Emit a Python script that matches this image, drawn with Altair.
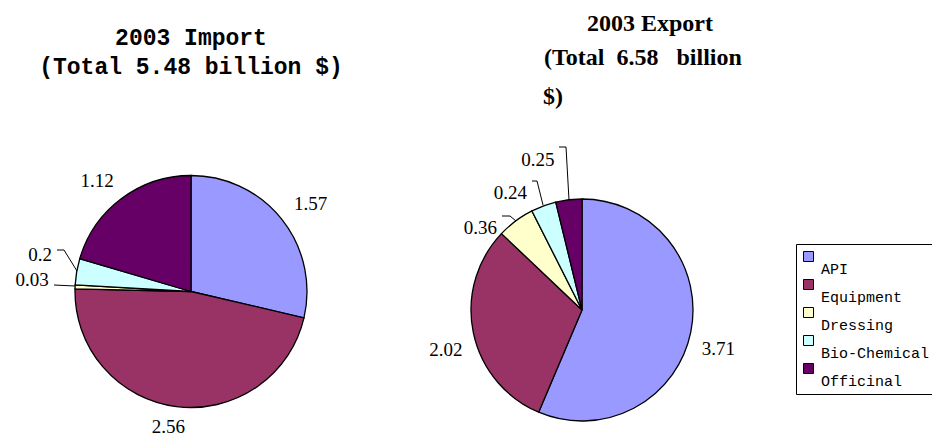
import altair as alt
import pandas as pd

# ---- data ----
categories = ["API", "Equipment", "Dressing", "Bio-Chemical", "Officinal"]
import_values = [1.57, 2.56, 0.03, 0.2, 1.12]
export_values = [3.71, 2.02, 0.36, 0.24, 0.25]
import_labels = ["1.57", "2.56", "0.03", "0.2", "1.12"]
export_labels = ["3.71", "2.02", "0.36", "0.24", "0.25"]
colors = ["#9999FF", "#993366", "#FFFFCC", "#CCFFFF", "#660066"]

# ---- styles / layout ----
LABEL_FONT = "Liberation Serif"
IMP_CENTER = (183, 283.5)
EXP_CENTER = (574, 302)
IMP_R = 116
EXP_R = 111
IMP_NUDGE = {"API": (10, 0), "Equipment": (-5, -3), "Dressing": (-19, -6),
             "Bio-Chemical": (-13, -13), "Officinal": (-10, 2)}
EXP_NUDGE = {"API": (4, 12), "Equipment": (-4, 12), "Dressing": (-21, 26),
             "Bio-Chemical": (-25, 10), "Officinal": (-28, -16)}
LEADERS = [
    ((46, 277), (67, 278)),
    ((49, 242), (56, 242)), ((56, 242), (69, 263)),
    ((494, 208), (502, 208)), ((502, 208), (508, 213)),
    ((524, 173), (529, 173)), ((529, 173), (535, 197)),
    ((551, 139), (558, 139)), ((558, 139), (561, 192)),
]
NB = "\u00a0"


def nudge_expr(nudge, k):
    e = "0"
    for cat, v in reversed(list(nudge.items())):
        e = f"datum.cat === '{cat}' ? {v[k]} : ({e})"
    return alt.expr(e)


color_enc = alt.Color(
    "cat:N",
    scale=alt.Scale(domain=categories, range=colors),
    legend=alt.Legend(
        orient="none", legendX=788, legendY=236, title=None,
        symbolType="square", symbolSize=100, symbolStrokeColor="black",
        symbolStrokeWidth=1, labelFont="Liberation Mono", labelFontSize=15,
        labelColor="black", labelExpr="['', datum.label]",
        labelBaseline="alphabetic", labelOffset=5, labelLimit=300,
        strokeColor="black", fillColor="white", padding=5, rowPadding=-6,
    ),
)


def pie(values, labels, center, r, rad_lab, nudge):
    df = pd.DataFrame({"cat": categories, "val": values, "lab": labels,
                       "idx": list(range(len(categories)))})
    base = alt.Chart(df).encode(
        theta=alt.Theta("val:Q", stack=True),
        order=alt.Order("idx:Q"),
        x=alt.value(center[0]), y=alt.value(center[1]),
    )
    arc = base.mark_arc(outerRadius=r, stroke="black", strokeWidth=1.3).encode(color=color_enc)
    txt = base.mark_text(
        radius=rad_lab, font=LABEL_FONT, fontSize=19, color="black",
        align="center", baseline="middle",
        dx=nudge_expr(nudge, 0), dy=nudge_expr(nudge, 1),
    ).encode(text="lab:N")
    return alt.layer(arc, txt)


imp = pie(import_values, import_labels, IMP_CENTER, IMP_R, 140, IMP_NUDGE)
exp = pie(export_values, export_labels, EXP_CENTER, EXP_R, 135, EXP_NUDGE)

dummy = pd.DataFrame({"k": [0]})
leaders = [
    alt.Chart(dummy).mark_rule(color="black", strokeWidth=1).encode(
        x=alt.value(a[0]), y=alt.value(a[1]), x2=alt.value(b[0]), y2=alt.value(b[1]))
    for a, b in LEADERS
]


def title_text(text, x, y, font, size, align="center"):
    return alt.Chart(dummy).mark_text(
        text=text, font=font, fontSize=size, fontWeight="bold", color="black",
        align=align, baseline="middle",
    ).encode(x=alt.value(x), y=alt.value(y))


titles = [
    title_text("2003 Import", 183, 30, "Liberation Mono", 23),
    title_text("(Total 5.48 billion $)", 183, 59, "Liberation Mono", 23),
    title_text("2003 Export", 642, 16, "Liberation Serif", 24),
    title_text(f"(Total{NB}{NB}6.58{NB}{NB}{NB}billion", 536, 50, "Liberation Serif", 24,
               align="left"),
    title_text("$)", 535, 89, "Liberation Serif", 24, align="left"),
]

chart = alt.layer(imp, exp, *leaders, *titles).resolve_scale(
    theta="independent"
).properties(
    width=924, height=429, autosize=alt.AutoSizeParams(type="none"), padding=0,
).configure_view(stroke=None)

chart.save("out.html", embed_options={"renderer": "svg", "actions": False})
